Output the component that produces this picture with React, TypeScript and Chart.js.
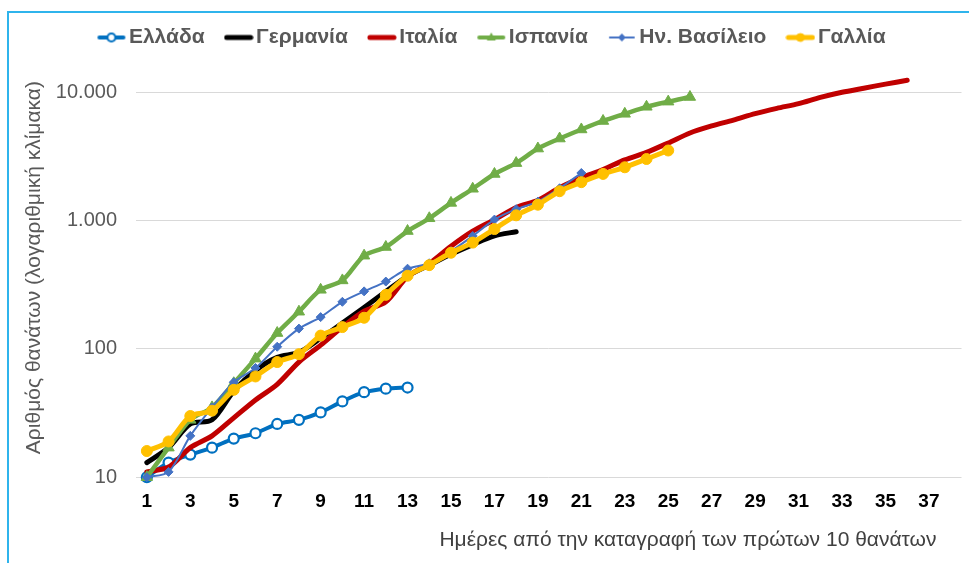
import { useEffect, useRef } from 'react';
import { Chart, registerables } from 'chart.js';

Chart.register(...registerables);

const days = [1, 2, 3, 4, 5, 6, 7, 8, 9, 10, 11, 12, 13, 14, 15, 16, 17, 18, 19, 20, 21, 22, 23, 24, 25, 26, 27, 28, 29, 30, 31, 32, 33, 34, 35, 36, 37, 38];

const greece = [10, 13, 15, 17, 20, 22, 26, 28, 32, 39, 46, 49, 50];
const germany = [13, 17, 26, 28, 47, 68, 86, 94, 121, 159, 210, 280, 370, 450, 546, 650, 760, 820];
const italy = [11, 12, 17, 21, 29, 40, 53, 79, 107, 148, 197, 233, 366, 463, 631, 827, 1016, 1266, 1441, 1809, 2158, 2503, 2978, 3405, 4032, 4825, 5476, 6077, 6820, 7503, 8165, 9134, 10023, 10779, 11591, 12428];
const spain = [10, 17, 28, 35, 54, 84, 133, 195, 289, 342, 533, 623, 830, 1043, 1375, 1772, 2311, 2808, 3647, 4365, 5138, 5982, 6803, 7716, 8464, 9200];
const uk = [10, 11, 21, 35, 55, 71, 104, 144, 177, 233, 281, 335, 422, 465, 578, 759, 1019, 1228, 1408, 1789, 2352];
const france = [16, 19, 30, 33, 48, 61, 79, 91, 127, 148, 175, 264, 372, 450, 562, 674, 860, 1100, 1331, 1696, 1995, 2314, 2606, 3024, 3523];

const seriesNames = ['Ελλάδα', 'Γερμανία', 'Ιταλία', 'Ισπανία', 'Ην. Βασίλειο', 'Γαλλία'];
const seriesValues = [greece, germany, italy, spain, uk, france];

const yTickValues = [10, 100, 1000, 10000];
const yTickLabels = ['10', '100', '1.000', '10.000'];

const xTitle = 'Ημέρες από την καταγραφή των πρώτων 10 θανάτων';
const yTitle = 'Αριθμός θανάτων (λογαριθμική κλίμακα)';

const FONT = "'Liberation Sans', Arial, sans-serif";

type Style = {
  color: string;
  width: number;
  marker: 'circle' | 'triangle' | 'rectRot' | 'none';
  radius: number;
  fill: string;
  markerBorder: number;
  legendLine: number;
};

const styles: Style[] = [
  { color: '#0070C0', width: 4, marker: 'circle', radius: 5, fill: '#FFFFFF', markerBorder: 2.2, legendLine: 4 },
  { color: '#000000', width: 5, marker: 'none', radius: 0, fill: '#000000', markerBorder: 0, legendLine: 5 },
  { color: '#C00000', width: 5, marker: 'none', radius: 0, fill: '#C00000', markerBorder: 0, legendLine: 5 },
  { color: '#70AD47', width: 4.5, marker: 'triangle', radius: 6.5, fill: '#70AD47', markerBorder: 1, legendLine: 4 },
  { color: '#4472C4', width: 2, marker: 'rectRot', radius: 4.5, fill: '#4472C4', markerBorder: 1, legendLine: 2 },
  { color: '#FFC000', width: 5, marker: 'circle', radius: 5.5, fill: '#FFC000', markerBorder: 1, legendLine: 5 },
];

function makeIcon(s: Style): HTMLCanvasElement {
  const c = document.createElement('canvas');
  c.width = 30;
  c.height = 16;
  const g = c.getContext('2d')!;
  g.strokeStyle = s.color;
  g.lineWidth = s.legendLine;
  g.lineCap = 'round';
  g.beginPath();
  g.moveTo(3, 8);
  g.lineTo(27, 8);
  g.stroke();
  const cx = 15;
  const cy = 8;
  g.fillStyle = s.fill;
  g.lineWidth = s.markerBorder;
  if (s.marker === 'circle') {
    g.beginPath();
    g.arc(cx, cy, 4, 0, Math.PI * 2);
    g.fill();
    g.stroke();
  } else if (s.marker === 'triangle') {
    const r = 5;
    g.beginPath();
    g.moveTo(cx, cy - r);
    g.lineTo(cx + r * 0.9, cy + r * 0.6);
    g.lineTo(cx - r * 0.9, cy + r * 0.6);
    g.closePath();
    g.fill();
  } else if (s.marker === 'rectRot') {
    const r = 4;
    g.beginPath();
    g.moveTo(cx, cy - r);
    g.lineTo(cx + r, cy);
    g.lineTo(cx, cy + r);
    g.lineTo(cx - r, cy);
    g.closePath();
    g.fill();
  }
  return c;
}

const xTitlePlugin = {
  id: 'xTitlePlugin',
  afterLayout(chart: any) {
    if (chart.legend) {
      chart.legend.left += 14;
      chart.legend.right += 14;
    }
  },
  afterDraw(chart: any) {
    const { ctx, chartArea } = chart;
    ctx.save();
    ctx.font = `21px ${FONT}`;
    ctx.fillStyle = '#404040';
    ctx.textAlign = 'right';
    ctx.textBaseline = 'middle';
    ctx.fillText(xTitle, chartArea.right - 25, chartArea.bottom + 63);
    ctx.restore();
  },
};

export default function App() {
  const ref = useRef<HTMLCanvasElement | null>(null);

  useEffect(() => {
    if (!ref.current) return;
    Chart.defaults.font.family = FONT;
    const icons = styles.map(makeIcon);

    const datasets = seriesValues.map((vals, i) => {
      const s = styles[i];
      return {
        label: seriesNames[i],
        data: vals,
        borderColor: s.color,
        backgroundColor: s.fill,
        borderWidth: s.width,
        pointStyle: s.marker === 'none' ? false : s.marker,
        pointRadius: s.radius,
        pointHoverRadius: s.radius,
        pointBackgroundColor: s.fill,
        pointBorderColor: s.color,
        pointBorderWidth: s.markerBorder,
        tension: 0.3,
        borderCapStyle: 'round' as const,
        borderJoinStyle: 'round' as const,
        fill: false,
        clip: false as const,
        order: seriesValues.length - i,
      };
    });

    const chart = new Chart(ref.current, {
      type: 'line',
      data: { labels: days, datasets },
      plugins: [xTitlePlugin],
      options: {
        animation: false,
        responsive: false,
        events: [],
        layout: { padding: { top: 0, right: 7, bottom: 37, left: 0 } },
        plugins: {
          tooltip: { enabled: false },
          legend: {
            position: 'top',
            align: 'center',
            labels: {
              usePointStyle: true,
              pointStyleWidth: 14,
              boxHeight: 14,
              padding: 27,
              color: '#595959',
              font: { size: 21, weight: 'bold' },
              generateLabels: () =>
                seriesNames.map((name, i) => ({
                  text: name,
                  pointStyle: icons[i] as any,
                  fillStyle: styles[i].color,
                  strokeStyle: styles[i].color,
                  lineWidth: 0,
                  hidden: false,
                  datasetIndex: i,
                  fontColor: '#595959',
                })),
            },
          },
        },
        scales: {
          x: {
            type: 'category',
            offset: true,
            grid: { display: false, drawTicks: false },
            border: { display: false },
            ticks: {
              autoSkip: false,
              maxRotation: 0,
              padding: 13,
              color: '#000000',
              font: { size: 19, weight: 'bold' },
              callback: (_v: any, index: number) => (index % 2 === 0 ? String(days[index]) : ''),
            },
          },
          y: {
            type: 'logarithmic',
            min: 10,
            max: 18530,
            afterBuildTicks: (s: any) => {
              s.ticks = yTickValues.map((v) => ({ value: v }));
            },
            afterFit: (s: any) => {
              s.width = 136;
            },
            grid: { color: '#D9D9D9', lineWidth: 1, drawTicks: false },
            border: { display: false },
            ticks: {
              padding: 19,
              color: '#595959',
              font: { size: 20 },
              callback: (v: any) => {
                const k = yTickValues.indexOf(Number(v));
                return k >= 0 ? yTickLabels[k] : '';
              },
            },
            title: {
              display: true,
              text: yTitle,
              color: '#595959',
              font: { size: 21 },
              padding: { top: 22, bottom: 0 },
            },
          },
        },
      },
    });
    return () => chart.destroy();
  }, []);

  return (
    <div style={{ position: 'fixed', left: 0, top: 0, width: 969, height: 563, background: '#FFFFFF', overflow: 'hidden' }}>
      <div
        style={{
          position: 'absolute',
          left: 7,
          top: 11,
          width: 1000,
          height: 600,
          borderLeft: '2px solid #2FB4EC',
          borderTop: '2px solid #2FB4EC',
          boxSizing: 'border-box',
        }}
      />
      <canvas ref={ref} width={969} height={563} style={{ position: 'absolute', left: 0, top: 0 }} />
    </div>
  );
}
